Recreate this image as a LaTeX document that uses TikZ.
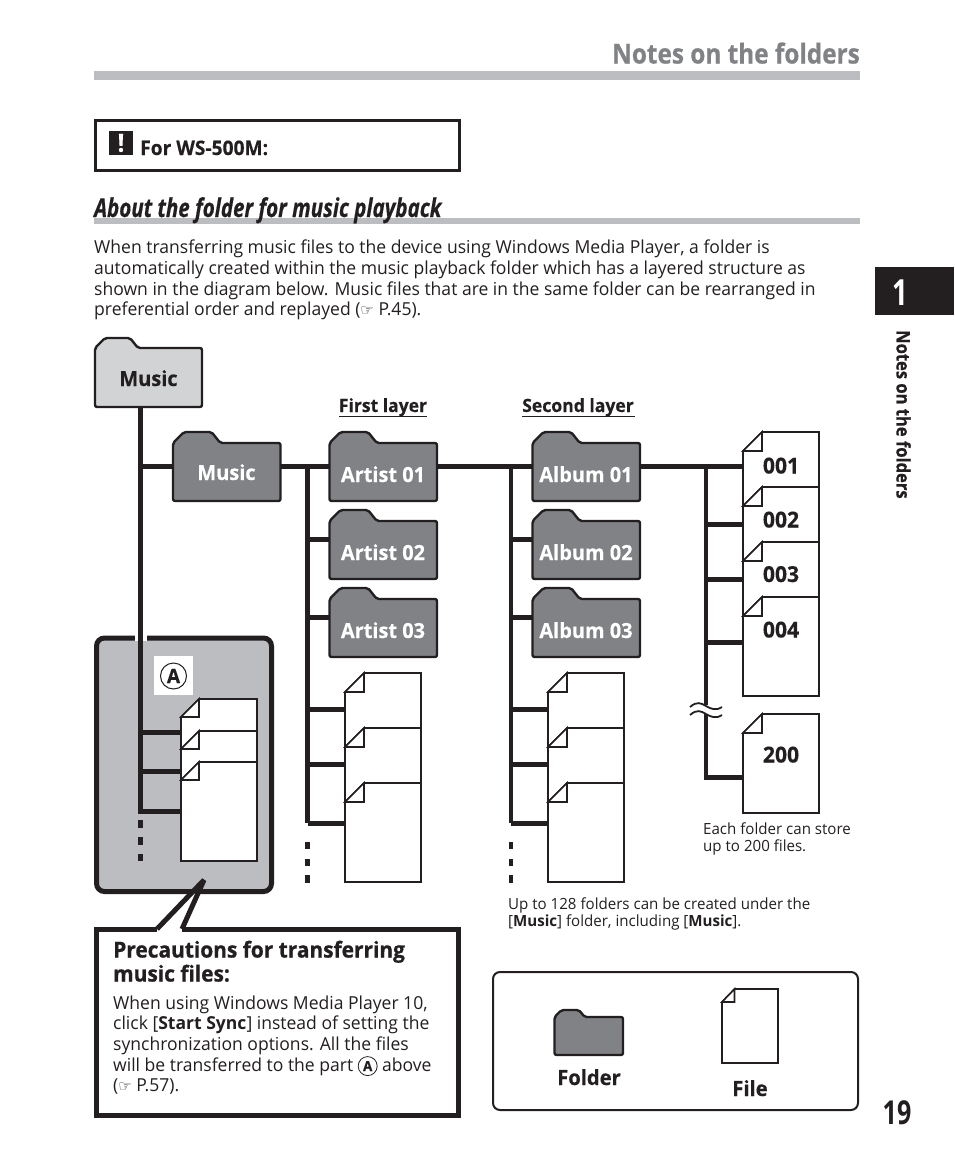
\documentclass[tikz,border=0pt]{standalone}
\usepackage{fontspec}
\setmainfont[FakeStretch=0.98]{Open Sans}
\newfontfamily\handfont{DejaVu Sans}
\newfontfamily\headfont[FakeStretch=0.79,BoldFeatures={FakeBold=0.5},ItalicFeatures={FakeBold=0.5},BoldItalicFeatures={FakeBold=0.5}]{Open Sans}
\newfontfamily\numfont[FakeStretch=0.76]{Open Sans}
\newfontfamily\titlefont[FakeStretch=0.885,BoldFeatures={FakeBold=0.6}]{Open Sans}
\newfontfamily\heavyfont[FakeStretch=0.95,BoldFeatures={FakeBold=0.7}]{Open Sans}
\newfontfamily\boldfont[FakeStretch=0.96,BoldFeatures={FakeBold=0.35}]{Open Sans}
\definecolor{ink}{HTML}{231F20}
\definecolor{barg}{HTML}{BBBDC0}
\definecolor{darkf}{HTML}{808285}
\definecolor{lightf}{HTML}{D1D3D4}
\newcommand\inlineA{\tikz[baseline=(innerA.base)]\node[anchor=center,circle,draw=ink,line width=.8pt,inner sep=0pt,minimum size=19pt,text=ink,font=\boldfont\bfseries\fontsize{14}{14}\selectfont] (innerA) {A};}
\tikzset{
  conn/.style={draw=ink,line width=5pt},
  trunk/.style={draw=ink,line width=4.6pt},
  foldline/.style={draw=ink,line width=2.4pt,rounded corners=2pt,line join=round},
  fileline/.style={draw=ink,line width=1.6pt,fill=white,line join=miter},
  anchorbox/.style={inner sep=0pt,outer sep=0pt,draw=none},
  lbl/.style={inner sep=0pt,anchor=base,font=\boldfont\bfseries\fontsize{20.8}{24}\selectfont},
  lbw/.style={lbl,text=white},
  numlbl/.style={inner sep=0pt,anchor=base,text=ink,font=\boldfont\bfseries\fontsize{22}{24}\selectfont},
  bodytext/.style={inner sep=0pt,anchor=north west,align=left,font=\fontsize{17.9}{20.6}\selectfont,text=ink},
  smalltext/.style={inner sep=0pt,anchor=north west,align=left,font=\fontsize{15.4}{17}\selectfont,text=ink},
  dotmark/.style={fill=ink,draw=none},
}
% name, x, tab top, width, total height, tab rise, fill
\newcommand\myfolder[7]{%
  \pgfmathsetmacro\fr{#6/10}%
  \draw[foldline,fill=#7] (#2,#3+#6) -- (#2+10*\fr,#3) -- (#2+35*\fr,#3) -- (#2+43*\fr,#3+#6)
     -- (#2+#4,#3+#6) -- (#2+#4,#3+#5) -- (#2,#3+#5) -- cycle;
  \node[anchorbox,minimum width=#4pt,minimum height=#5pt-#6pt] (#1) at (#2+#4/2,#3+#5/2+#6/2) {};
}
% name, x, top, bottom, fold
\newcommand\myfile[5]{%
  \draw[fileline] (#2+#5,#3) -- (#2+76,#3) -- (#2+76,#4) -- (#2,#4) -- (#2,#3+#5) -- cycle;
  \draw[fileline] (#2,#3+#5) -- (#2+#5,#3) -- (#2+#5,#3+#5) -- cycle;
  \node[anchorbox,minimum width=76pt,minimum height=#4pt-#3pt] (#1) at (#2+38,#3/2+#4/2) {};
}
\newcommand\mysq[2]{\fill[dotmark] (#1-2.3,#2) rectangle (#1+2.3,#2+7.5);}
\begin{document}
\begin{tikzpicture}[x=1pt,y=-1pt]
\useasboundingbox (0,0) rectangle (954,1159);
% page header
\fill[barg] (94,71) rectangle (860,80);
\node[inner sep=0pt,anchor=base east,text=darkf,font=\titlefont\bfseries\fontsize{27.5}{30}\selectfont] (pagetitle) at (860,63.5) {Notes on the folders};
\draw[ink,line width=3pt] (95.5,120.5) rectangle (459.5,170.5);
\node[anchor=center,fill=ink,text=white,minimum width=24pt,minimum height=24pt,inner sep=0pt,font=\boldfont\bfseries\fontsize{25}{25}\selectfont] (warn) at (121,143) {!};
\node[inner sep=0pt,anchor=base west,text=ink,font=\boldfont\bfseries\fontsize{20}{20}\selectfont] (forws) at (140,155) {For WS-500M:};
\fill[barg] (94,218) rectangle (860,224);
\node[inner sep=0pt,anchor=base west,text=ink,font=\headfont\bfseries\itshape\fontsize{26}{28}\selectfont] (section) at (94,217) {About the folder for music playback};
\node[bodytext] (intro) at (94,240) {When transferring music files to the device using Windows Media Player, a folder is\\automatically created within the music playback folder which has a layered structure as\\shown in the diagram below. Music files that are in the same folder can be rearranged in\\preferential order and replayed ({\handfont\fontsize{15}{15}\selectfont ☞} P.45).};
% side tab
\fill[ink] (875,267) rectangle (954,315);
\node[inner sep=0pt,anchor=base,text=white,font=\numfont\bfseries\fontsize{36}{36}\selectfont] (tabnum) at (900,305) {1};
\node[inner sep=0pt,anchor=north west,rotate=-90,text=ink,font=\titlefont\bfseries\fontsize{18.7}{20}\selectfont] (sidetext) at (911,330) {Notes on the folders};
\node[inner sep=0pt,anchor=base,text=ink,font=\numfont\bfseries\fontsize{33}{33}\selectfont] (pagenum) at (897,1124) {19};
% grey box
\draw[ink,line width=5pt,fill=barg,rounded corners=8pt] (96.5,638) rectangle (271.5,891.5);
\fill[white] (134.5,634) rectangle (147,641);
\fill[white] (154,656) rectangle (193,695);
\node[circle,draw=ink,line width=1pt,inner sep=0pt,minimum size=26pt,text=ink,font=\boldfont\bfseries\fontsize{20}{20}\selectfont] (circA) at (173.5,676) {A};
% callout
\fill[white] (96.5,929) -- (157,929) -- (204,880) -- (182,929) -- (458.5,929) -- (458.5,1115.5) -- (96.5,1115.5) -- cycle;
\draw[ink,line width=5pt] (182,929) -- (458.5,929) -- (458.5,1115.5) -- (96.5,1115.5) -- (96.5,929) -- (157,929);
\draw[ink,line width=5pt,miter limit=1] (157,929) -- (204,880) -- (182,929);
\node[inner sep=0pt,anchor=north west,align=left,text=ink,font=\heavyfont\bfseries\fontsize{22}{24}\selectfont] (prectitle) at (113,940.5) {Precautions for transferring\\music files:};
\node[bodytext] (precbody) at (113,995.5) {When using Windows Media Player 10,\\click [\textbf{Start Sync}] instead of setting the\\synchronization options. All the files\\will be transferred to the part \inlineA{} above\\({\handfont\fontsize{15}{15}\selectfont ☞} P.57).};
% folders
\myfolder{musicroot}{95}{338}{107}{69}{10}{lightf}
\myfolder{musicdark}{173}{432}{107.5}{69}{11}{darkf}
\myfolder{artista}{329.5}{432}{107.5}{69}{11}{darkf}
\myfolder{artistb}{329.5}{510}{107.5}{69}{11}{darkf}
\myfolder{artistc}{329.5}{588}{107.5}{69}{11}{darkf}
\myfolder{albuma}{532.5}{432}{107.5}{69}{11}{darkf}
\myfolder{albumb}{532.5}{510}{107.5}{69}{11}{darkf}
\myfolder{albumc}{532.5}{588}{107.5}{69}{11}{darkf}
\node[lbl,text=ink] (tRoot) at (148.5,386) {Music};
\node[lbw] (tDark) at (226.5,480) {Music};
\node[lbw] (tArtA) at (383,482) {Artist 01};
\node[lbw] (tArtB) at (383,560) {Artist 02};
\node[lbw] (tArtC) at (383,638) {Artist 03};
\node[lbw] (tAlbA) at (586,482) {Album 01};
\node[lbw] (tAlbB) at (586,560) {Album 02};
\node[lbw] (tAlbC) at (586,638) {Album 03};
% layer headings
\node[inner sep=0pt,anchor=base,text=ink,font=\boldfont\bfseries\fontsize{18.3}{20}\selectfont] (layerA) at (383,412) {First layer};
\node[inner sep=0pt,anchor=base,text=ink,font=\boldfont\bfseries\fontsize{18.3}{20}\selectfont] (layerB) at (578,412) {Second layer};
\draw[ink,line width=.7pt] (339,416.5) -- (427,416.5);
\draw[ink,line width=.7pt] (522,416.5) -- (635,416.5);
% files
\myfile{ga}{181}{699}{861}{18}
\myfile{gb}{181}{731}{861}{18}
\myfile{gc}{181}{762}{861}{18}
\myfile{ha}{345}{673}{882}{19}
\myfile{hb}{345}{728}{882}{19}
\myfile{hc}{345}{783}{882}{19}
\myfile{ia}{548}{673}{882}{19}
\myfile{ib}{548}{728}{882}{19}
\myfile{ic}{548}{783}{882}{19}
\myfile{ja}{743}{432}{696}{19}
\myfile{jb}{743}{487}{696}{19}
\myfile{jc}{743}{542}{696}{19}
\myfile{jd}{743}{597}{696}{19}
\myfile{je}{743}{714}{813}{19}
\node[numlbl] (t001) at (781,473.5) {001};
\node[numlbl] (t002) at (781,527.5) {002};
\node[numlbl] (t003) at (781,582) {003};
\node[numlbl] (t004) at (781,637.5) {004};
\node[numlbl] (t200) at (781,762.5) {200};
% trunk junctions
\coordinate (r0) at (140.5,466.5);
\coordinate (r1) at (140.5,732.5);
\coordinate (r2) at (140.5,771.5);
\coordinate (r3) at (140.5,811);
\coordinate (a0) at (307.7,466.5);
\coordinate (a1) at (307.7,539);
\coordinate (a2) at (307.7,617);
\coordinate (a3) at (307.7,709);
\coordinate (a4) at (307.7,764);
\coordinate (a5) at (307.7,823);
\coordinate (b0) at (511,466.5);
\coordinate (b1) at (511,539);
\coordinate (b2) at (511,617);
\coordinate (b3) at (511,709);
\coordinate (b4) at (511,764);
\coordinate (b5) at (511,823);
\coordinate (c0) at (706,466.5);
\coordinate (c1) at (706,524);
\coordinate (c2) at (706,579);
\coordinate (c3) at (706,642);
\coordinate (cw1) at (706,705);
\coordinate (cw2) at (706,714);
\coordinate (c4) at (706,777);
% trunks
\draw[trunk] (musicroot.south -| r0) -- (r3);
\draw[trunk] (a0) -- (a5);
\draw[trunk] (b0) -- (b5);
\draw[trunk] (c0) -- (cw1);
\draw[trunk] (cw2) -- (c4);
% branches
\draw[conn] (r0) -- (r0 -| musicdark.west);
\draw[conn] (musicdark.east |- r0) -- (r0 -| artista.west);
\draw[conn] (artista.east |- r0) -- (r0 -| albuma.west);
\draw[conn] (albuma.east |- r0) -- (r0 -| ja.west);
\foreach \p/\n in {r1/ga,r2/gb,a1/artistb,a2/artistc,a3/ha,a4/hb,a5/hc,b1/albumb,b2/albumc,b3/ia,b4/ib,b5/ic,c1/ja,c2/jb,c3/jc}
  \draw[conn] (\p) -- (\p -| \n.west);
\draw[conn] ([xshift=-2.3pt]r3) -- (r3 -| gc.west);
\draw[conn] ([xshift=-2.3pt]c4) -- (c4 -| je.west);
% continuation marks
\mysq{140.5}{820}\mysq{140.5}{837}\mysq{140.5}{853.5}
\mysq{307.7}{841.5}\mysq{307.7}{858.5}\mysq{307.7}{875}
\mysq{511}{841.5}\mysq{511}{858.5}\mysq{511}{875}
% break mark
\draw[ink,line width=1.8pt] (690,707) .. controls (697,701) and (701,703) .. (706,706) .. controls (711,709) and (716,711) .. (722,707);
\draw[ink,line width=1.8pt] (690,715) .. controls (697,709) and (701,711) .. (706,714) .. controls (711,717) and (716,719) .. (722,715);
% notes
\node[smalltext] (noteA) at (703,823) {Each folder can store\\up to 200 files.};
\node[smalltext] (noteB) at (508,898) {Up to 128 folders can be created under the\\{[}\textbf{Music}{]} folder, including [\textbf{Music}].};
% legend
\draw[ink,line width=2pt,rounded corners=7pt] (493,972) rectangle (858,1110);
\myfolder{legfolder}{554.5}{1010}{68.5}{45}{7}{darkf}
\draw[fileline] (734.5,989) -- (778,989) -- (778,1063) -- (722,1063) -- (722,1002) -- cycle;
\draw[fileline] (722,1002) -- (734.5,989) -- (734.5,1002) -- cycle;
\node[anchorbox,minimum width=56pt,minimum height=74pt] (legfile) at (750,1026) {};
\node[inner sep=0pt,anchor=base,text=ink,font=\boldfont\bfseries\fontsize{21}{22}\selectfont] (legA) at (589,1085) {Folder};
\node[inner sep=0pt,anchor=base,text=ink,font=\boldfont\bfseries\fontsize{21}{22}\selectfont] (legB) at (750,1096) {File};
\end{tikzpicture}
\end{document}
